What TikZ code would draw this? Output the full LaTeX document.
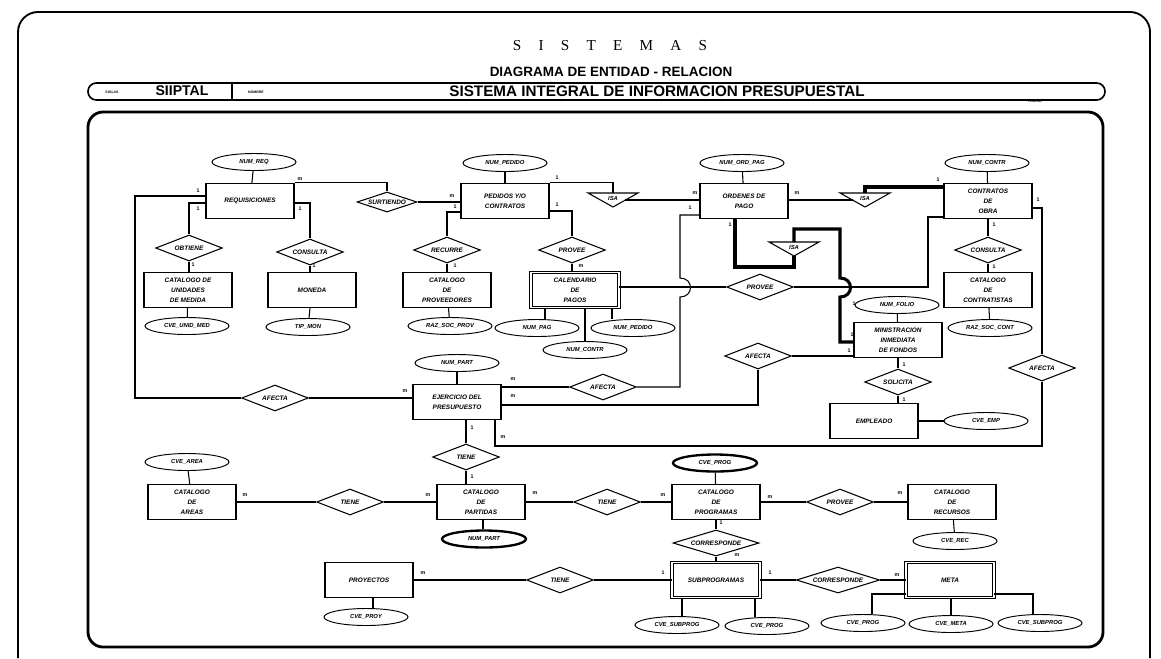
\documentclass[tikz,border=0pt]{standalone}
\usepackage{fontspec}
\setmainfont{Liberation Serif}
\newfontfamily\erfont{Liberation Sans}
\usetikzlibrary{positioning,shapes.geometric}
\tikzset{
  ent/.style     = {rectangle, draw, line width=1.2pt, align=center,
                    minimum width=2.64cm, minimum height=1.05cm, inner sep=1pt,
                    font=\erfont\bfseries\itshape\fontsize{5.5}{8.5}\selectfont},
  weak/.style    = {ent, double, double distance=1.3pt, line width=0.8pt},
  rel/.style     = {diamond, aspect=3.2, draw, line width=0.9pt, minimum width=2.0cm,
                    minimum height=0.78cm, inner sep=0pt,
                    font=\erfont\bfseries\itshape\fontsize{5.5}{6.5}\selectfont},
  attr/.style    = {ellipse, draw, line width=0.8pt, minimum width=2.52cm,
                    minimum height=0.51cm, inner sep=0pt,
                    font=\erfont\bfseries\itshape\fontsize{5}{6}\selectfont},
  keyattr/.style = {attr, line width=2pt},
  isatxt/.style  = {inner sep=0pt, font=\erfont\bfseries\itshape\fontsize{5}{6}\selectfont},
  card/.style    = {inner sep=0pt, font=\erfont\bfseries\fontsize{4.5}{5}\selectfont},
  link/.style    = {line width=0.9pt},
  heavy/.style   = {line width=2.6pt},
}
\begin{document}
\begin{tikzpicture}[x=0.03cm, y=-0.03cm]
  \useasboundingbox (0,0) rectangle (1161,658);

  % frames and heading
  \draw[line width=1.6pt, rounded corners=0.6cm] (18,658) -- (18,12) -- (1150,12) -- (1150,658);
  \node[font=\fontsize{13}{15}\selectfont] (ttl) at (610,46)
    {S\hspace{1.13em}I\hspace{1.13em}S\hspace{1.13em}T\hspace{1.13em}E\hspace{1.13em}M\hspace{1.13em}A\hspace{1.13em}S};
  \node[font=\erfont\bfseries\fontsize{11.5}{13}\selectfont] (sub ttl) at (611,72) {DIAGRAMA DE ENTIDAD - RELACION};
  \draw[line width=1.4pt, rounded corners=0.25cm] (88,83) rectangle (1105,100);
  \draw[line width=1pt] (232,83) -- (232,100);
  \node[font=\erfont\bfseries\fontsize{3}{3}\selectfont] (siglas) at (112,92) {SIGLAS};
  \node[font=\erfont\bfseries\fontsize{12}{13}\selectfont] (siiptal) at (182,91) {SIIPTAL};
  \node[font=\erfont\bfseries\fontsize{3}{3}\selectfont] (nombre) at (256,92) {NOMBRE};
  \node[font=\erfont\bfseries\fontsize{13}{14}\selectfont] (sysname) at (657,91) {SISTEMA INTEGRAL DE INFORMACION PRESUPUESTAL};
  \node[font=\erfont\bfseries\fontsize{3}{3}\selectfont] (pagina) at (1035,101) {PAGINA};
  \draw[line width=2.4pt, rounded corners=0.45cm] (88,112) rectangle (1103,647);

  % entities
  \node[ent] (req)  at (250,201) {REQUISICIONES};
  \node[ent] (ped)  at (505,201) {PEDIDOS Y/O\\CONTRATOS};
  \node[ent] (ord)  at (744,201) {ORDENES DE\\PAGO};
  \node[ent] (con)  at (988,201) {CONTRATOS\\DE\\OBRA};
  \node[ent] (umed) at (188,290) {CATALOGO DE\\UNIDADES\\DE MEDIDA};
  \node[ent] (mon)  at (312,290) {MONEDA};
  \node[ent] (prov) at (447,290) {CATALOGO\\DE\\PROVEEDORES};
  \node[weak] (cal) at (575,290) {CALENDARIO\\DE\\PAGOS};
  \node[ent] (cont) at (988,290) {CATALOGO\\DE\\CONTRATISTAS};
  \node[ent] (minf) at (898,340) {MINISTRACION\\INMEDIATA\\DE FONDOS};
  \node[ent] (emp)  at (874,421) {EMPLEADO};
  \node[ent] (ejer) at (457,402) {EJERCICIO DEL\\PRESUPUESTO};
  \node[ent] (area) at (192,502) {CATALOGO\\DE\\AREAS};
  \node[ent] (part) at (481,502) {CATALOGO\\DE\\PARTIDAS};
  \node[ent] (prog) at (716,502) {CATALOGO\\DE\\PROGRAMAS};
  \node[ent] (rec)  at (952,502) {CATALOGO\\DE\\RECURSOS};
  \node[ent] (proy) at (369,580) {PROYECTOS};
  \node[weak] (sub) at (716,580) {SUBPROGRAMAS};
  \node[weak] (meta) at (950,580) {META};

  % attributes
  \node[attr] (anreq)   at (254,162) {NUM\_REQ};
  \node[attr] (anped)   at (505,163) {NUM\_PEDIDO};
  \node[attr] (anord)   at (742,163) {NUM\_ORD\_PAG};
  \node[attr] (ancon)   at (987,163) {NUM\_CONTR};
  \node[attr] (acumed)  at (187,326) {CVE\_UNID\_MED};
  \node[attr] (atmon)   at (308,327) {TIP\_MON};
  \node[attr] (arprov)  at (450,326) {RAZ\_SOC\_PROV};
  \node[attr] (anpag)   at (537,328) {NUM\_PAG};
  \node[attr] (ancont)  at (585,350) {NUM\_CONTR};
  \node[attr] (anpedb)  at (633,328) {NUM\_PEDIDO};
  \node[attr] (arcont)  at (990,328) {RAZ\_SOC\_CONT};
  \node[attr] (amin)    at (897,305) {NUM\_FOLIO};
  \node[attr] (acemp)   at (986,421) {CVE\_EMP};
  \node[attr] (anpart)  at (457,363) {NUM\_PART};
  \node[attr] (acarea)  at (187,462) {CVE\_AREA};
  \node[keyattr] (anpartb) at (484,539) {NUM\_PART};
  \node[keyattr] (acprog)  at (715,463) {CVE\_PROG};
  \node[attr] (acrec)   at (955,541) {CVE\_REC};
  \node[attr] (acproy)  at (366,617) {CVE\_PROY};
  \node[attr] (acsub)   at (677,625) {CVE\_SUBPROG};
  \node[attr] (acprogb) at (767,626) {CVE\_PROG};
  \node[attr] (acprogc) at (863,623) {CVE\_PROG};
  \node[attr] (acmeta)  at (951,624) {CVE\_META};
  \node[attr] (acsubb)  at (1040,623) {CVE\_SUBPROG};

  % relationships
  \node[rel, minimum width=1.8cm, minimum height=0.6cm] (surt) at (387,202) {SURTIENDO};
  \node[rel] (obt)    at (189,248) {OBTIENE};
  \node[rel] (consa)  at (310,252) {CONSULTA};
  \node[rel] (recu)   at (447,250) {RECURRE};
  \node[rel] (provea) at (572,250) {PROVEE};
  \node[rel] (proveb) at (760,287) {PROVEE};
  \node[rel] (consb)  at (988,250) {CONSULTA};
  \node[rel] (sol)    at (898,382) {SOLICITA};
  \node[rel] (afeca)  at (275,398) {AFECTA};
  \node[rel] (afecb)  at (603,387) {AFECTA};
  \node[rel] (afecc)  at (758,356) {AFECTA};
  \node[rel] (afecd)  at (1042,368) {AFECTA};
  \node[rel] (tiena)  at (466,457) {TIENE};
  \node[rel] (tienb)  at (350,502) {TIENE};
  \node[rel] (tienc)  at (607,502) {TIENE};
  \node[rel] (provec) at (840,502) {PROVEE};
  \node[rel, minimum width=2.58cm] (corra) at (716,543) {CORRESPONDE};
  \node[rel] (tiend)  at (560,580) {TIENE};
  \node[rel, minimum width=2.5cm] (corrb) at (838,580) {CORRESPONDE};

  % ISA triangles
  \foreach \n/\x/\y in {isaa/613/193, isab/865/193, isac/794/242} {
    \draw[line width=0.9pt] (\x-25,\y) -- (\x+25,\y) -- (\x,\y+14) -- cycle;
    \node[isatxt] (\n) at (\x,\y+5) {ISA};
    \coordinate (\n-top) at (\x,\y);
    \coordinate (\n-apex) at (\x,\y+14);
    \coordinate (\n-l) at (\x-12,\y+7);
    \coordinate (\n-r) at (\x+12,\y+7);
  }

  % attribute links
  \foreach \a/\e in {anreq/req, anped/ped, anord/ord, ancon/con, acumed/umed,
                     atmon/mon, arprov/prov, arcont/cont, amin/minf, anpart/ejer,
                     acarea/area, acprog/prog, acrec/rec, emp/acemp}
    \draw[link] (\a) -- (\e);
  \draw[link] (cal.south -| 545,0) -- (anpag.north -| 545,0);
  \draw[link] (cal.south -| 585,0) -- (ancont.north);
  \draw[link] (cal.south -| 612,0) -- (anpedb.north -| 612,0);
  \draw[link] (part.south -| 483,0) -- (anpartb.north -| 483,0);
  \draw[link] (proy.south -| 373,0) -- (acproy.north -| 373,0);
  \draw[link] (sub.south -| 682,0) -- (acsub.north -| 682,0);
  \draw[link] (sub.south -| 755,0) -- (acprogb.north -| 755,0);
  \draw[link] (meta.west |- 0,594) -- (872,594) -- (acprogc.north -| 872,0);
  \draw[link] (meta.south -| acmeta.north) -- (acmeta.north);
  \draw[link] (meta.east |- 0,594) -- (1033,594) -- (acsubb.north -| 1033,0);

  % upper row
  \draw[link] (req.north east) -| (surt.north);
  \draw[link] (surt.east) -- (ped.west |- surt.east);
  \draw[link] (req.west |- 0,196) -- (135,196) |- (afeca.west);
  \draw[link] (req.west |- 0,203) -| (obt.north);
  \draw[link] (obt.south) -- (obt.south |- umed.north);
  \draw[link] (req.east |- 0,203) -| (consa.north);
  \draw[link] (consa.south) -- (consa.south |- mon.north);
  \draw[link] (ped.west |- 0,212) -| (recu.north);
  \draw[link] (recu.south) -- (prov.north);
  \draw[link] (ped.east |- 0,211) -| (provea.north);
  \draw[link] (provea.south) -- (provea.south |- cal.north);
  \draw[link] (ped.north east) -| (isaa-top);
  \draw[link] (isaa-r) -- (ord.west |- isaa-r);
  \draw[link] (ord.east |- isab-l) -- (isab-l);
  \draw[heavy] (isab-top) |- (con.west |- 0,187);
  \draw[link] (con.south) -- (consb.north);
  \draw[link] (consb.south) -- (cont.north);

  % middle
  \draw[link] (ord.west |- 0,215) -- (680,215) -- (680,278)
    .. controls (694,278) and (694,297) .. (680,297) |- (afecb.east);
  \draw[link] (afecb.west) -- (ejer.east |- afecb.west);
  \draw[heavy] (ord.south -| 735,0) -- (735,267) -| (isac-apex);
  \draw[heavy] (isac-top) |- (840,229) -- (840,278)
    .. controls (854,278) and (854,297) .. (840,297) |- (minf.west |- 0,342);
  \draw[link] (cal.east |- proveb.west) -- (proveb.west);
  \draw[link] (proveb.east) -- (928,287) |- (con.west |- 0,217);
  \draw[link] (con.east |- 0,208) -- (1042,208) -- (afecd.north);
  \draw[link] (afecd.south) -- (1042,446) -| (ejer.south -| 495,0);
  \draw[link] (afecc.east) -- (minf.west |- afecc.east);
  \draw[link] (afecc.south) |- (ejer.east |- 0,405);
  \draw[link] (minf.south -| sol.north) -- (sol.north);
  \draw[link] (sol.south) -- (sol.south |- emp.north);
  \draw[link] (afeca.east) -- (ejer.west |- afeca.east);
  \draw[link] (ejer.south -| tiena.north) -- (tiena.north);
  \draw[link] (tiena.south) -- (tiena.south |- part.north);

  % lower rows
  \draw[link] (area.east) -- (tienb.west);
  \draw[link] (tienb.east) -- (part.west);
  \draw[link] (part.east) -- (tienc.west);
  \draw[link] (tienc.east) -- (prog.west);
  \draw[link] (prog.east) -- (provec.west);
  \draw[link] (provec.east) -- (rec.west);
  \draw[link] (prog.south) -- (corra.north);
  \draw[link] (corra.south) -- (sub.north);
  \draw[link] (proy.east) -- (tiend.west);
  \draw[link] (tiend.east) -- (sub.west);
  \draw[link] (sub.east) -- (corrb.west);
  \draw[link] (corrb.east) -- (meta.west);

  % cardinalities
  \foreach \x/\y/\t [count=\i] in {300/179/m, 198/191/1, 198/209/1, 300/209/1,
      193/265/1, 314/266/1, 452/196/m, 455/207/1, 455/266/1, 557/178/1,
      557/205/1, 581/266/m, 695/193/m, 690/208/1, 797/193/m, 938/180/1,
      730/225/1, 994/225/1, 994/267/1, 1038/200/1, 854/304/1, 852/335/1,
      849/351/1, 904/365/1, 904/400/1, 405/391/m, 513/379/m, 513/396/m,
      503/437/m, 472/428/1, 472/477/1, 245/495/m, 428/495/m, 535/493/m,
      663/495/m, 770/497/m, 900/493/m, 721/523/1, 737/555/m, 423/573/m,
      663/573/1, 770/573/1, 897/575/m}
    \node[card] (k\i) at (\x,\y) {\t};
\end{tikzpicture}
\end{document}
